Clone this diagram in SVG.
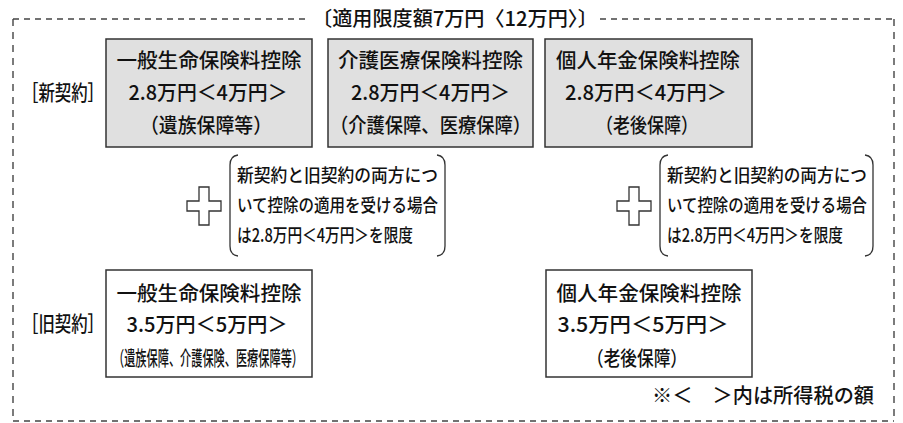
<svg xmlns="http://www.w3.org/2000/svg" width="903" height="423" viewBox="0 0 903 423">
<style>
text{font-family:"Noto Sans CJK JP","Noto Sans CJK SC",sans-serif;fill:#111;font-weight:500;}
.t{font-size:20.5px;text-anchor:middle;}
.s{font-size:18px;}
.frame{fill:none;stroke:#444;stroke-width:1.4;}
.h{stroke-dasharray:6 5;}
.v{stroke-dasharray:7 6;}
.new{fill:#e0e0e0;stroke:#333;stroke-width:1.5;}
.old{fill:#fff;stroke:#333;stroke-width:1.5;}
.plus{fill:#fff;stroke:#333;stroke-width:1.3;}
.br{fill:none;stroke:#333;stroke-width:1.3;}
</style>
<rect width="903" height="423" fill="#fff"/>
<g id="frame">
<line class="frame h" x1="13" y1="19" x2="310" y2="19"/>
<line class="frame h" x1="600" y1="19" x2="894" y2="19"/>
<line class="frame v" x1="13" y1="19" x2="13" y2="421"/>
<line class="frame v" x1="894" y1="19" x2="894" y2="421"/>
<line class="frame h" x1="13" y1="421" x2="894" y2="421"/>
<text x="312" y="26" style="font-size:20px" textLength="286" lengthAdjust="spacingAndGlyphs">〔適用限度額7万円〈12万円〉〕</text>
</g>
<g id="label-new"><text x="22" y="100" style="font-size:21px" textLength="82" lengthAdjust="spacingAndGlyphs">［新契約］</text></g>
<g id="label-old"><text x="22" y="331" style="font-size:21px" textLength="82" lengthAdjust="spacingAndGlyphs">［旧契約］</text></g>
<g id="new-general">
<rect class="new" x="106" y="39" width="206" height="108"/>
<text class="t" x="209" y="68" textLength="185" lengthAdjust="spacingAndGlyphs">一般生命保険料控除</text>
<text class="t" x="208" y="100" textLength="159" lengthAdjust="spacingAndGlyphs">2.8万円＜4万円＞</text>
<text class="t" x="206" y="133" textLength="132" lengthAdjust="spacingAndGlyphs">（遺族保障等）</text>
</g>
<g id="new-care">
<rect class="new" x="328" y="39" width="205" height="108"/>
<text class="t" x="430.5" y="68" textLength="185" lengthAdjust="spacingAndGlyphs">介護医療保険料控除</text>
<text class="t" x="430.5" y="100" textLength="159" lengthAdjust="spacingAndGlyphs">2.8万円＜4万円＞</text>
<text class="t" x="430.5" y="133" textLength="201" lengthAdjust="spacingAndGlyphs">（介護保障、医療保障）</text>
</g>
<g id="new-pension">
<rect class="new" x="545" y="39" width="207" height="108"/>
<text class="t" x="648" y="68" textLength="184" lengthAdjust="spacingAndGlyphs">個人年金保険料控除</text>
<text class="t" x="646" y="100" textLength="162" lengthAdjust="spacingAndGlyphs">2.8万円＜4万円＞</text>
<text class="t" x="647" y="133" textLength="102" lengthAdjust="spacingAndGlyphs">（老後保障）</text>
</g>
<g id="note-left">
<path class="plus" d="M199 187 H209 V201 H221 V211 H209 V225 H199 V211 H187 V201 H199 Z"/>
<path class="br" d="M238 155 Q230 156 230 165 L230 246 Q230 255 238 256"/>
<path class="br" d="M437 155 Q445 156 445 165 L445 246 Q445 255 437 256"/>
<text class="s" x="237" y="182" textLength="201" lengthAdjust="spacingAndGlyphs">新契約と旧契約の両方につ</text>
<text class="s" x="237" y="212" textLength="201" lengthAdjust="spacingAndGlyphs">いて控除の適用を受ける場合</text>
<text class="s" x="237" y="242" textLength="176" lengthAdjust="spacingAndGlyphs">は2.8万円＜4万円＞を限度</text>
</g>
<g id="note-right">
<path class="plus" d="M629 187 H639 V201 H651 V211 H639 V225 H629 V211 H617 V201 H629 Z"/>
<path class="br" d="M668 155 Q660 156 660 165 L660 246 Q660 255 668 256"/>
<path class="br" d="M865 155 Q873 156 873 165 L873 246 Q873 255 865 256"/>
<text class="s" x="667" y="182" textLength="200" lengthAdjust="spacingAndGlyphs">新契約と旧契約の両方につ</text>
<text class="s" x="667" y="212" textLength="200" lengthAdjust="spacingAndGlyphs">いて控除の適用を受ける場合</text>
<text class="s" x="667" y="242" textLength="176" lengthAdjust="spacingAndGlyphs">は2.8万円＜4万円＞を限度</text>
</g>
<g id="old-general">
<rect class="old" x="106" y="270" width="206" height="107"/>
<text class="t" x="209" y="301" textLength="185" lengthAdjust="spacingAndGlyphs">一般生命保険料控除</text>
<text class="t" x="207" y="332" textLength="161" lengthAdjust="spacingAndGlyphs">3.5万円＜5万円＞</text>
<text class="t" x="208" y="366" style="font-size:20px" textLength="190" lengthAdjust="spacingAndGlyphs">（遺族保障、介護保険、医療保障等）</text>
</g>
<g id="old-pension">
<rect class="old" x="546" y="270" width="206" height="107"/>
<text class="t" x="649" y="301" textLength="185" lengthAdjust="spacingAndGlyphs">個人年金保険料控除</text>
<text class="t" x="643" y="332" textLength="171" lengthAdjust="spacingAndGlyphs">3.5万円＜5万円＞</text>
<text class="t" x="637" y="366" style="font-size:20px" textLength="100" lengthAdjust="spacingAndGlyphs">（老後保障）</text>
</g>
<g id="footnote"><text x="652" y="403" style="font-size:20.5px" textLength="222" lengthAdjust="spacingAndGlyphs">※＜　＞内は所得税の額</text></g>
<g id="connectors"></g>
</svg>
